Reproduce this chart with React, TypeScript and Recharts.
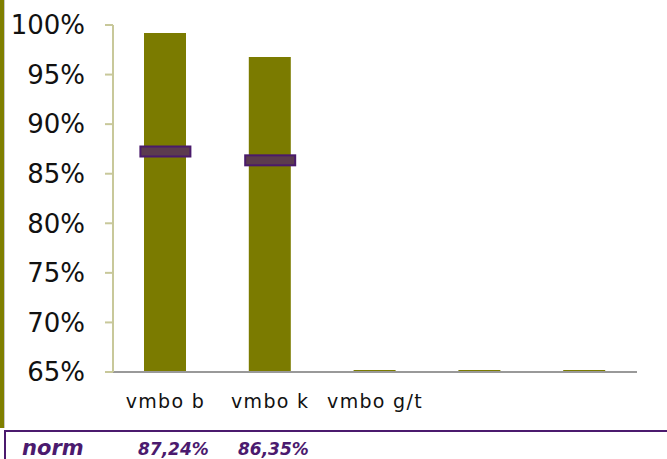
import React from "react";
import { ComposedChart, Bar, Line, XAxis, YAxis } from "recharts";

const categories = ["vmbo b", "vmbo k", "vmbo g/t", "", ""];
const scores = [0.9919, 0.9677, 0.652, 0.652, 0.652];
const norms: (number | null)[] = [0.8724, 0.8635, null, null, null];
const yTicks = [0.65, 0.7, 0.75, 0.8, 0.85, 0.9, 0.95, 1.0];
const normLabels = ["87,24%", "86,35%"];

const data = categories.map((c, i) => ({ name: c, score: scores[i], norm: norms[i] }));

const FONT = "'DejaVu Sans', Verdana, sans-serif";

const NormMarker = (props: any) => {
  const { cx, cy, value } = props;
  if (value == null || cx == null || cy == null) return null;
  return (
    <rect
      x={cx - 25}
      y={cy - 5}
      width={50}
      height={10}
      fill="#5c3b4f"
      stroke="#4a1a6b"
      strokeWidth={2}
    />
  );
};

const XTick = (props: any) => {
  const { x, y, payload } = props;
  return (
    <text x={x} y={y + 28} textAnchor="middle" fontSize={19} letterSpacing={1.3} fill="#111" fontFamily={FONT}>
      {payload.value}
    </text>
  );
};

export default function App() {
  return (
    <div style={{ position: "absolute", left: 0, top: 0, width: 667, height: 459, background: "#fff", fontFamily: FONT, overflow: "hidden" }}>
      <div style={{ position: "absolute", left: 0, top: 0, width: 4, height: 428, background: "#7f7f00" }} />
      <div style={{ position: "absolute", left: 4, top: 0, width: 1, height: 428, background: "#c8c8c8" }} />
      <div style={{ position: "absolute", left: 4, top: 430, width: 663, height: 2, background: "#4b1a6e" }} />
      <div style={{ position: "absolute", left: 4, top: 430, width: 2, height: 29, background: "#4b1a6e" }} />
      <div style={{ position: "absolute", left: 0, top: 0 }}>
        <ComposedChart
          width={667}
          height={430}
          data={data}
          margin={{ top: 25, right: 30, left: 0, bottom: 0 }}
          barSize={42}
        >
          <XAxis
            dataKey="name"
            tickLine={false}
            axisLine={{ stroke: "#999999", strokeWidth: 2 }}
            tick={<XTick />}
            height={58}
            interval={0}
          />
          <YAxis
            domain={[0.65, 1]}
            ticks={yTicks}
            allowDataOverflow
            width={113}
            tickSize={8}
            tickMargin={20}
            axisLine={{ stroke: "#c8c89a", strokeWidth: 2 }}
            tickLine={{ stroke: "#c8c89a", strokeWidth: 2 }}
            tick={{ fontSize: 26, fill: "#111", fontFamily: FONT }}
            tickFormatter={(v: number) => `${Math.round(v * 100)}%`}
          />
          <Bar dataKey="score" fill="#7b7b00" isAnimationActive={false} />
          <Line
            dataKey="norm"
            stroke="none"
            dot={<NormMarker />}
            activeDot={false}
            isAnimationActive={false}
            connectNulls={false}
          />
        </ComposedChart>
      </div>
      <svg style={{ position: "absolute", left: 0, top: 0 }} width={667} height={459}>
        <text x={22} y={455} fontSize={21} fontWeight="bold" fontStyle="italic" fill="#4b1a6e" fontFamily={FONT}>norm</text>
        {normLabels.map((t, i) => (
          <text key={i} x={138 + i * 100} y={455} fontSize={17} fontWeight="bold" fontStyle="italic" fill="#4b1a6e" fontFamily={FONT}>{t}</text>
        ))}
      </svg>
    </div>
  );
}
